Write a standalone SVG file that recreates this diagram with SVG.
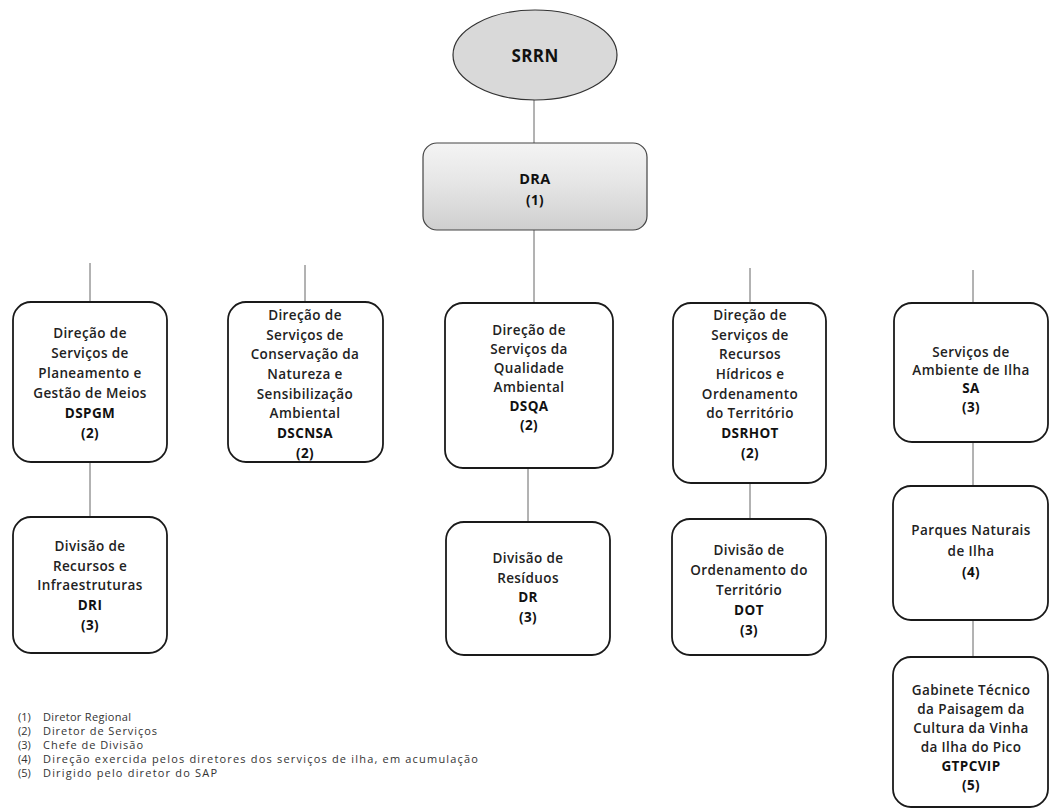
<svg xmlns="http://www.w3.org/2000/svg" width="1051" height="811" viewBox="0 0 1051 811">
<style>
.box{fill:#ffffff;stroke:#1a1a1a;stroke-width:1.8}
.t{font-family:"Open Sans","Liberation Sans",sans-serif;font-size:13.5px;font-weight:600;fill:#222;text-anchor:middle;letter-spacing:0.4px}
.b{font-weight:700;fill:#111}
.con line{stroke:#666;stroke-width:1}
.lg{font-family:"Open Sans","Liberation Sans",sans-serif;font-size:11px;fill:#333}
</style>
<defs>
<linearGradient id="g" x1="0" y1="0" x2="0" y2="1">
<stop offset="0" stop-color="#f4f4f4"/>
<stop offset="0.45" stop-color="#e6e6e6"/>
<stop offset="1" stop-color="#cfcfcf"/>
</linearGradient>
</defs>
<rect width="1051" height="811" fill="#ffffff"/>
<g id="connectors" class="con">
<line x1="534" y1="100" x2="534" y2="143"/>
<line x1="534" y1="230" x2="534" y2="303"/>
<line x1="90" y1="263" x2="90" y2="302"/>
<line x1="305" y1="265" x2="305" y2="302"/>
<line x1="750" y1="268" x2="750" y2="303"/>
<line x1="973" y1="270" x2="973" y2="303"/>
<line x1="90" y1="462" x2="90" y2="517"/>
<line x1="528" y1="468" x2="528" y2="522"/>
<line x1="750" y1="483" x2="750" y2="519"/>
<line x1="973" y1="442" x2="973" y2="486"/>
<line x1="973" y1="620" x2="973" y2="657"/>
</g>
<g id="SRRN">
<ellipse cx="535" cy="55" rx="82" ry="45" fill="#d9d9d9" stroke="#333" stroke-width="1.2"/>
<text x="535" y="62" class="t b" style="font-size:17px">SRRN</text>
</g>
<g id="DRA">
<rect x="423" y="143" width="224" height="87" rx="14" fill="url(#g)" stroke="#444" stroke-width="1.2"/>
<text x="535" y="184" class="t b" style="font-size:14.5px">DRA</text>
<text x="535" y="205" class="t b" style="font-size:13.5px">(1)</text>
</g>
<g id="DSPGM">
<rect class="box" x="13" y="302" width="154" height="160" rx="18"/>
<text class="t" x="90" y="338">Direção de</text>
<text class="t" x="90" y="358">Serviços de</text>
<text class="t" x="90" y="378">Planeamento e</text>
<text class="t" x="90" y="398">Gestão de Meios</text>
<text class="t b" x="90" y="418">DSPGM</text>
<text class="t b" x="90" y="438">(2)</text>
</g>
<g id="DSCNSA">
<rect class="box" x="228" y="302" width="155" height="160" rx="18"/>
<text class="t" x="305" y="320">Direção de</text>
<text class="t" x="305" y="340">Serviços de</text>
<text class="t" x="305" y="359">Conservação da</text>
<text class="t" x="305" y="379">Natureza e</text>
<text class="t" x="305" y="399">Sensibilização</text>
<text class="t" x="305" y="418">Ambiental</text>
<text class="t b" x="305" y="438">DSCNSA</text>
<text class="t b" x="305" y="458">(2)</text>
</g>
<g id="DSQA">
<rect class="box" x="445" y="303" width="168" height="165" rx="18"/>
<text class="t" x="529" y="335">Direção de</text>
<text class="t" x="529" y="354">Serviços da</text>
<text class="t" x="529" y="373">Qualidade</text>
<text class="t" x="529" y="392">Ambiental</text>
<text class="t b" x="529" y="411">DSQA</text>
<text class="t b" x="529" y="430">(2)</text>
</g>
<g id="DSRHOT">
<rect class="box" x="673" y="303" width="153" height="180" rx="18"/>
<text class="t" x="750" y="320">Direção de</text>
<text class="t" x="750" y="340">Serviços de</text>
<text class="t" x="750" y="359">Recursos</text>
<text class="t" x="750" y="379">Hídricos e</text>
<text class="t" x="750" y="399">Ordenamento</text>
<text class="t" x="750" y="418">do Território</text>
<text class="t b" x="750" y="438">DSRHOT</text>
<text class="t b" x="750" y="458">(2)</text>
</g>
<g id="SA">
<rect class="box" x="894" y="303" width="154" height="139" rx="18"/>
<text class="t" x="971" y="357">Serviços de</text>
<text class="t" x="971" y="375">Ambiente de Ilha</text>
<text class="t b" x="971" y="393">SA</text>
<text class="t b" x="971" y="412">(3)</text>
</g>
<g id="DRI">
<rect class="box" x="13" y="517" width="154" height="136" rx="18"/>
<text class="t" x="90" y="551">Divisão de</text>
<text class="t" x="90" y="571">Recursos e</text>
<text class="t" x="90" y="590">Infraestruturas</text>
<text class="t b" x="90" y="610">DRI</text>
<text class="t b" x="90" y="630">(3)</text>
</g>
<g id="DR">
<rect class="box" x="446" y="522" width="164" height="133" rx="18"/>
<text class="t" x="528" y="563">Divisão de</text>
<text class="t" x="528" y="583">Resíduos</text>
<text class="t b" x="528" y="602">DR</text>
<text class="t b" x="528" y="622">(3)</text>
</g>
<g id="DOT">
<rect class="box" x="672" y="519" width="154" height="136" rx="18"/>
<text class="t" x="749" y="555">Divisão de</text>
<text class="t" x="749" y="575">Ordenamento do</text>
<text class="t" x="749" y="595">Território</text>
<text class="t b" x="749" y="615">DOT</text>
<text class="t b" x="749" y="635">(3)</text>
</g>
<g id="PNI">
<rect class="box" x="893" y="486" width="155" height="134" rx="18"/>
<text class="t" x="971" y="535">Parques Naturais</text>
<text class="t" x="971" y="556">de Ilha</text>
<text class="t b" x="971" y="577">(4)</text>
</g>
<g id="GTPCVIP">
<rect class="box" x="893" y="657" width="155" height="150" rx="18"/>
<text class="t" x="971" y="695">Gabinete Técnico</text>
<text class="t" x="971" y="714">da Paisagem da</text>
<text class="t" x="971" y="733">Cultura da Vinha</text>
<text class="t" x="971" y="752">da Ilha do Pico</text>
<text class="t b" x="971" y="771">GTPCVIP</text>
<text class="t b" x="971" y="790">(5)</text>
</g>
<g id="legend">
<text class="lg" x="18" y="721">(1)</text><text class="lg" x="43" y="721" textLength="88" lengthAdjust="spacing">Diretor Regional</text>
<text class="lg" x="18" y="735">(2)</text><text class="lg" x="43" y="735" textLength="114" lengthAdjust="spacing">Diretor de Serviços</text>
<text class="lg" x="18" y="749">(3)</text><text class="lg" x="43" y="749" textLength="100" lengthAdjust="spacing">Chefe de Divisão</text>
<text class="lg" x="18" y="763">(4)</text><text class="lg" x="43" y="763" textLength="435" lengthAdjust="spacing">Direção exercida pelos diretores dos serviços de ilha, em acumulação</text>
<text class="lg" x="18" y="777">(5)</text><text class="lg" x="43" y="777" textLength="174" lengthAdjust="spacing">Dirigido pelo diretor do SAP</text>
</g>
</svg>
